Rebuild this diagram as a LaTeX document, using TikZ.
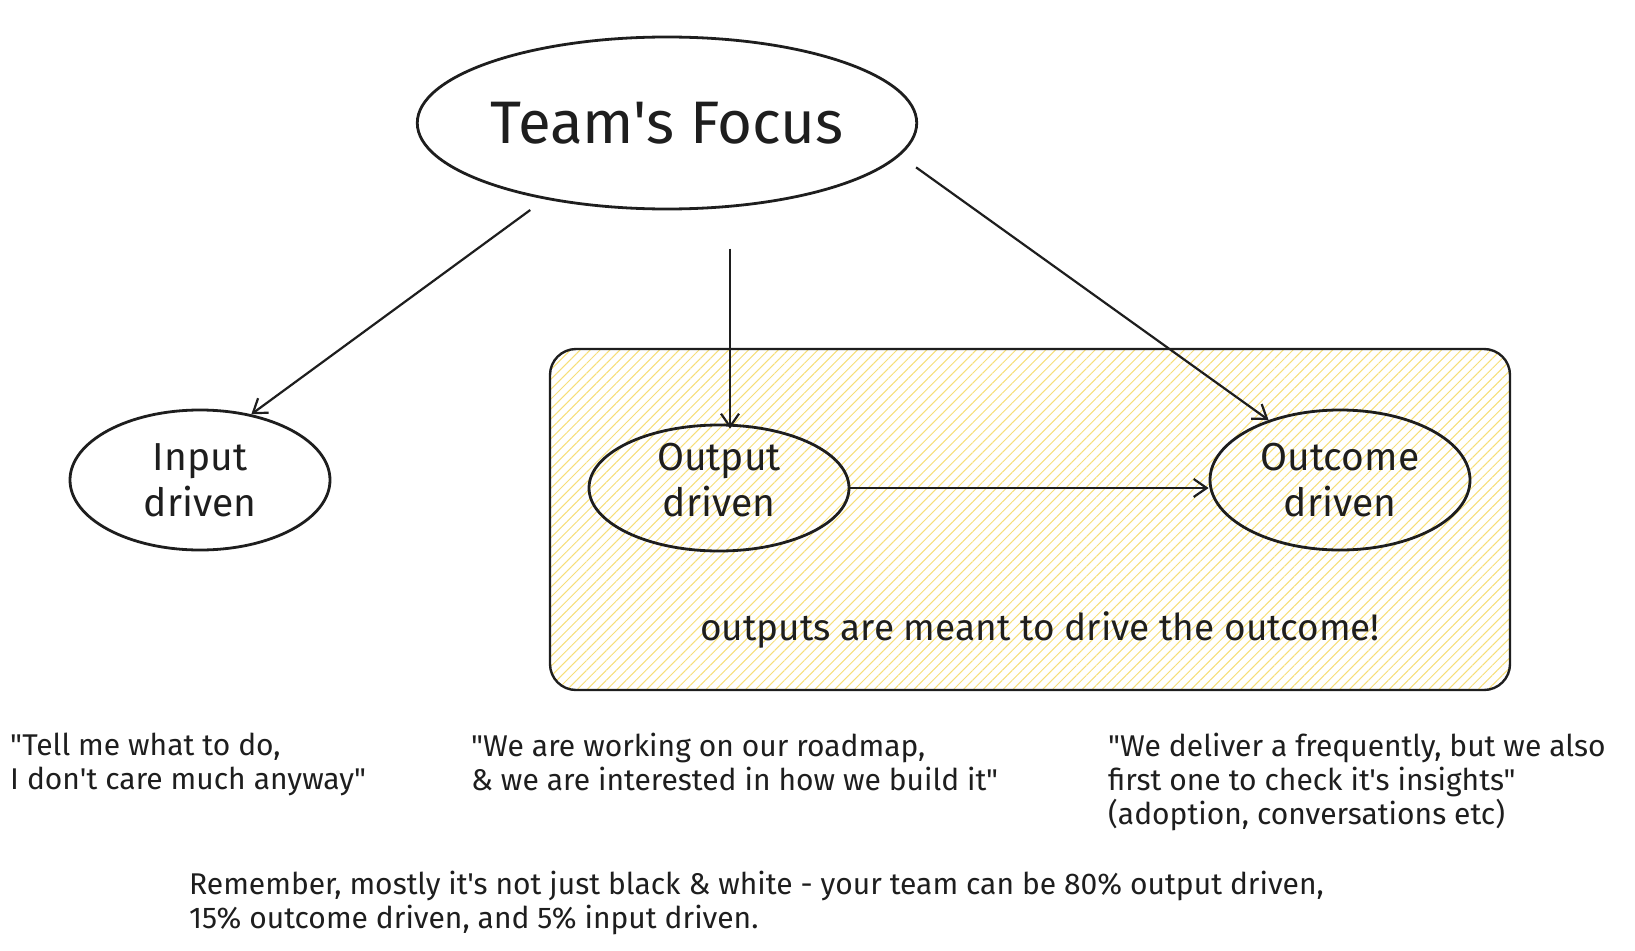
\documentclass[tikz,border=0pt]{standalone}
\usepackage{fontspec}
\setmainfont{Fira Sans}[Ligatures=TeXOff]
\usepackage{tikz}
\usepackage{xcolor}
\usetikzlibrary{shapes.geometric,arrows.meta,patterns.meta}
\definecolor{ink}{RGB}{30,30,30}
\definecolor{hatch}{RGB}{246,222,120}
\tikzset{
  bubble/.style={draw=ink, ellipse, line width=2.8pt, inner sep=0pt, align=center, text=ink, font=\fontsize{39}{46}\selectfont},
  arr/.style={draw=ink, line width=2.2pt, -{Straight Barb[length=13pt,width=18pt]}},
  quote/.style={anchor=north west, inner sep=0pt, align=left, text=ink, font=\fontsize{30}{34}\selectfont}
}
\begin{document}
\begin{tikzpicture}[x=1pt, y=-1pt]
				\useasboundingbox (0,0) rectangle (1635,950);
				%Caja
				\draw[ink, line width=2.4pt, rounded corners=26pt, pattern={Lines[angle=45,distance=7pt,line width=1pt]}, pattern color=hatch] (550,349) rectangle (1510,690);
				\node[text=ink, font=\fontsize{37}{42}\selectfont] (goal) at (1040,630) {outputs are meant to drive the outcome!};
				%Elipses
				\node[bubble, minimum width=480pt, minimum height=172pt, font=\fontsize{60}{66}\selectfont] (focus) at (667,123) {Team's Focus};
				\node[bubble, minimum width=260pt, minimum height=140pt] (input) at (200,480) {Input\\driven};
				\node[bubble, minimum width=260pt, minimum height=126pt] (output) at (719,488) {};
				\node[align=center, text=ink, font=\fontsize{39}{46}\selectfont] (outputtext) at (719,480) {Output\\driven};
				\node[bubble, minimum width=260pt, minimum height=140pt] (outcome) at (1340,480) {Outcome\\driven};
				%Flechas
		\draw[arr, shorten <=18pt] (focus.212) -- (input.52);
		\draw[arr] ([xshift=11pt,yshift=175pt]output.north) -- ([xshift=11pt,yshift=-5pt]output.north);
		\draw[arr, shorten <=20pt] (focus.-8) -- (outcome.140);
		\draw[arr] (output.east) -- (output.east -| outcome.west);
				%Citas
				\node[quote] (q1) at (10,733) {"Tell me what to do,\\I don't care much anyway"};
				\node[quote] (q2) at (471,733) {"We are working on our roadmap,\\\& we are interested in how we build it"};
				\node[quote] (q3) at (1108,733) {"We deliver a frequently, but we also\\first one to check it's insights"\\(adoption, conversations etc)};
				% nota final
				\node[quote] (remember) at (189,871) {Remember, mostly it's not just black \& white - your team can be 80\% output driven,\\15\% outcome driven, and 5\% input driven.};
\end{tikzpicture}
\end{document}
